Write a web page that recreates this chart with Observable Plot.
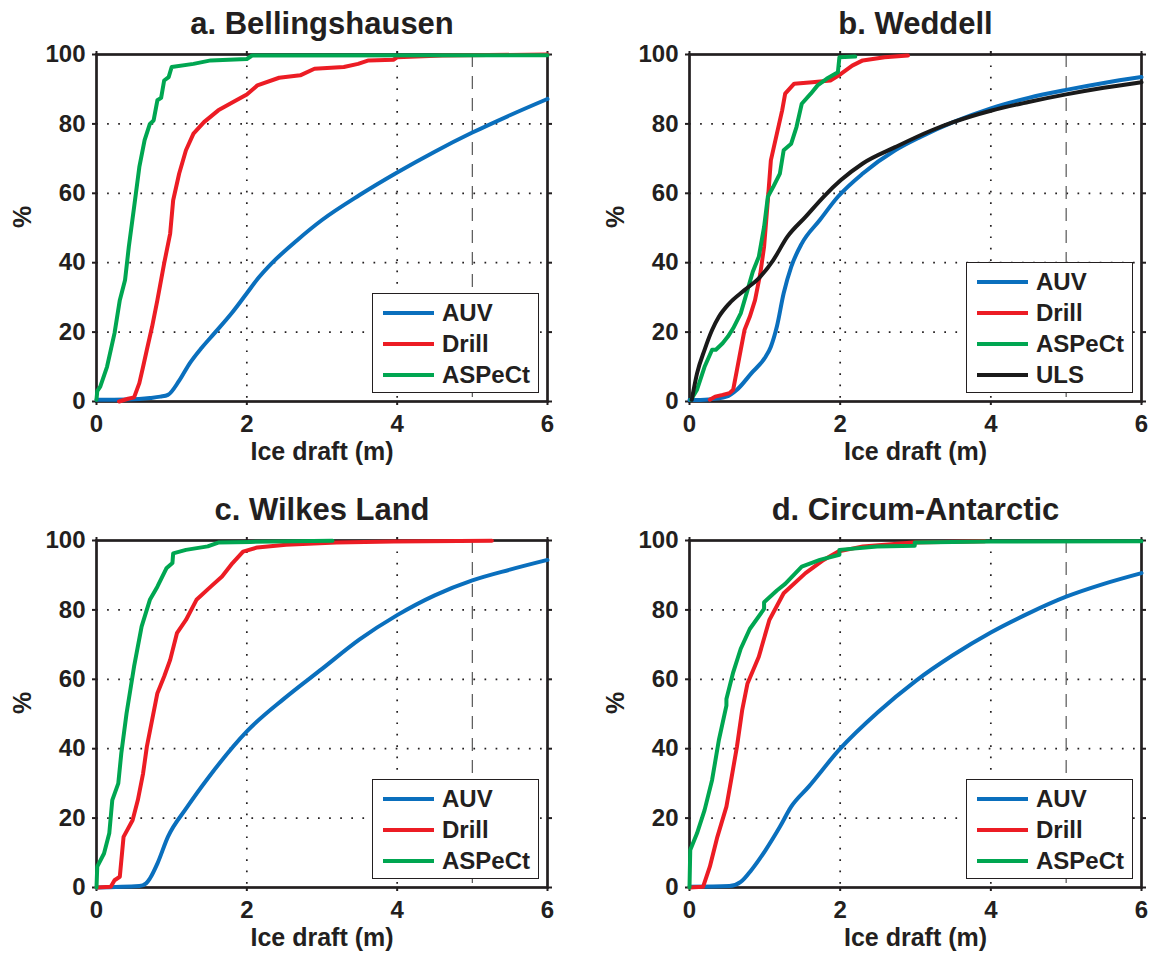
<!DOCTYPE html>
<html>
<head>
<meta charset="utf-8">
<script src="https://cdn.jsdelivr.net/npm/d3@7"></script>
<script src="https://cdn.jsdelivr.net/npm/@observablehq/plot@0.6"></script>
<style>
  html, body { margin: 0; padding: 0; background: #fff; }
  #root { position: relative; width: 1151px; height: 957px; font-family: "Liberation Sans", Arial, sans-serif; color: #231f20; }
  .panel { position: absolute; }
  .legend { position: absolute; box-sizing: border-box; border: 1.3px solid #231f20; background: #fff; padding-top: 3px; }
  .row { display: flex; align-items: center; height: 31px; }
  .sw { width: 51px; height: 4px; margin-left: 10px; margin-right: 8px; }
  .lab { font-weight: bold; font-size: 24px; line-height: 24px; }
</style>
</head>
<body>
<div id="root"></div>
<script>
// ---------- data (ice draft m, cumulative %) ----------
const xTicks = [0, 2, 4, 6];
const yTicks = [0, 20, 40, 60, 80, 100];
const xGrid = [2, 4];
const yGrid = [20, 40, 60, 80];
const dashedX = [5];

const titles = ["a. Bellingshausen", "b. Weddell", "c. Wilkes Land", "d. Circum-Antarctic"];
const seriesNames = ["AUV", "Drill", "ASPeCt", "ULS"];
const seriesColors = ["#0a6fbd", "#ec1c24", "#00a651", "#1a1a1a"];
const smoothSeries = [true, false, false, true];

const belAUV = [[0,0.5],[0.4,0.6],[0.71,1.0],[0.85,1.4],[0.95,1.9],[1.1,6],[1.24,11],[1.4,15.5],[1.57,19.7],[1.8,25.5],[2.0,31.2],[2.15,35.5],[2.33,39.8],[2.67,46.5],[3.0,52.3],[3.5,59.5],[4.0,66],[4.5,72],[5.0,77.5],[5.5,82.5],[6.0,87.2]];
const belDrill = [[0.3,0],[0.42,0.8],[0.5,1.2],[0.57,5.3],[0.62,10],[0.67,14.9],[0.74,21.6],[0.81,29.2],[0.9,39.8],[0.98,48.4],[1.02,58],[1.1,65.7],[1.19,72.4],[1.29,77.2],[1.43,80.5],[1.62,83.9],[1.86,86.8],[2.0,88.5],[2.14,91.1],[2.43,93.3],[2.71,94],[2.9,95.9],[3.29,96.4],[3.48,97.3],[3.62,98.3],[3.95,98.5],[4.0,99.2],[4.6,99.7],[6.0,100]];
const belAsp = [[0,0.5],[0.01,3],[0.05,4.3],[0.14,10],[0.24,19.7],[0.31,29.2],[0.38,35],[0.43,44.6],[0.5,56],[0.57,67.6],[0.64,75.3],[0.71,80],[0.76,81],[0.81,86.8],[0.86,87.5],[0.9,92.5],[0.96,93.5],[1.0,96.4],[1.29,97.3],[1.52,98.3],[2.0,98.7],[2.07,99.7],[6.0,99.8]];

const wedAUV = [[0,0.4],[0.25,0.6],[0.49,1.4],[0.63,3.4],[0.82,8.1],[1.01,12.9],[1.08,15.8],[1.16,21.6],[1.25,31.2],[1.35,38.8],[1.49,45.5],[1.73,52.3],[1.97,59],[2.3,65.7],[2.73,72.4],[3.06,76.2],[3.5,80.5],[4.0,84.5],[4.5,87.5],[5.0,89.8],[5.5,91.8],[6.0,93.5]];
const wedDrill = [[0.27,0.5],[0.34,1.4],[0.44,1.9],[0.53,2.4],[0.58,3.4],[0.63,9.1],[0.68,14.9],[0.73,20.6],[0.8,24.4],[0.87,29.2],[0.94,36.9],[0.99,44.6],[1.04,58],[1.08,69.5],[1.16,77.2],[1.23,83.9],[1.27,88.7],[1.39,91.6],[1.63,92],[1.87,92.5],[2.01,94.4],[2.16,96.8],[2.3,98.3],[2.59,99.2],[2.9,99.7]];
const wedAsp = [[0.02,0.5],[0.1,3.4],[0.2,10],[0.3,14.9],[0.35,14.9],[0.44,16.8],[0.51,18.7],[0.58,21.1],[0.68,25.4],[0.77,32.1],[0.84,37.4],[0.92,41.7],[0.99,50.3],[1.04,59],[1.11,61.8],[1.2,65.7],[1.25,72.4],[1.35,74.3],[1.42,79.1],[1.49,85.8],[1.61,88.7],[1.7,91.1],[1.82,93],[1.97,94.9],[1.99,99.2],[2.2,99.4]];
const wedULS = [[0.03,0.5],[0.1,8.1],[0.2,14.9],[0.3,20.6],[0.39,24.4],[0.53,28.3],[0.73,32.1],[0.92,35.5],[1.11,40.7],[1.3,47.5],[1.54,53.2],[1.78,59],[2.01,63.8],[2.3,68.6],[2.73,73.3],[3.21,78.1],[3.5,80.5],[4.0,83.8],[4.5,86.3],[5.0,88.5],[5.5,90.4],[6.0,92]];

const wilAUV = [[0,0],[0.57,0.4],[0.66,1.2],[0.71,2.6],[0.81,6.9],[0.95,14.6],[1.2,23],[1.5,32],[2.0,45],[2.5,54.5],[3.0,63],[3.5,71.5],[4.0,78.5],[4.5,84.2],[5.0,88.5],[5.5,91.6],[6.0,94.4]];
const wilDrill = [[0,0],[0.19,0.2],[0.24,2.1],[0.31,3.1],[0.36,14.6],[0.48,19.4],[0.55,25.2],[0.62,32.9],[0.67,40.6],[0.74,48.3],[0.81,56],[0.9,60.8],[0.98,65.6],[1.07,73.3],[1.19,77.1],[1.33,82.9],[1.52,86.7],[1.67,89.6],[1.81,93.5],[1.95,96.8],[2.14,98],[2.52,98.8],[3.19,99.4],[3.95,99.7],[5.26,99.9]];
const wilAsp = [[0,0],[0.01,6],[0.1,9.8],[0.17,15.6],[0.21,25.2],[0.29,30],[0.33,38.7],[0.4,50.2],[0.5,63.7],[0.6,75.2],[0.71,82.9],[0.81,86.7],[0.93,92],[1.01,93.5],[1.02,96.3],[1.19,97.3],[1.48,98.3],[1.62,99.4],[2.05,99.6],[3.14,99.9]];

const cirAUV = [[0,0.2],[0.53,0.4],[0.68,1.6],[0.82,5],[1.01,10.8],[1.2,17.5],[1.35,23.3],[1.58,29],[2.0,40],[2.5,50.5],[3.0,59.5],[3.5,67],[4.0,73.5],[4.5,79],[5.0,83.8],[5.5,87.5],[6.0,90.6]];
const cirDrill = [[0,0],[0.18,0.2],[0.27,6],[0.37,14.6],[0.49,23.3],[0.56,31.9],[0.63,40.6],[0.7,51.2],[0.77,58.8],[0.92,66.5],[1.06,77.1],[1.25,84.8],[1.54,90.6],[1.78,94.4],[1.97,96.8],[2.3,98.3],[2.97,99.4],[3.92,99.8]];
const cirAsp = [[0,0],[0.01,10.8],[0.1,15.6],[0.2,22.3],[0.3,31],[0.39,42.5],[0.49,52.4],[0.49,54.3],[0.58,62],[0.68,68.8],[0.8,74.5],[0.99,80.3],[0.99,82.2],[1.16,85.6],[1.27,87.5],[1.49,92.5],[1.73,94.4],[1.99,95.9],[1.99,97.3],[2.49,98.3],[2.99,98.5],[2.99,99.4],[4.0,99.7],[6.0,99.8]];

// ---------- layout ----------
const panels = [
  {title: titles[0], left: 0,   top: 0,   w: 575, h: 478, ml: 96,  mr: 28, mt: 54, mb: 77,
   series: [belAUV, belDrill, belAsp], legend: {left: 372, top: 293, w: 167, h: 100}},
  {title: titles[1], left: 575, top: 0,   w: 576, h: 478, ml: 114, mr: 10, mt: 54, mb: 77,
   series: [wedAUV, wedDrill, wedAsp, wedULS], legend: {left: 966, top: 262, w: 167, h: 131}},
  {title: titles[2], left: 0,   top: 478, w: 575, h: 479, ml: 96,  mr: 28, mt: 62, mb: 70,
   series: [wilAUV, wilDrill, wilAsp], legend: {left: 372, top: 779, w: 167, h: 100}},
  {title: titles[3], left: 575, top: 478, w: 576, h: 479, ml: 114, mr: 10, mt: 62, mb: 70,
   series: [cirAUV, cirDrill, cirAsp], legend: {left: 966, top: 779, w: 167, h: 100}}
];

const root = document.getElementById("root");
const ink = "#231f20";
const fmt = d3.format("d");

for (const p of panels) {
  const lines = p.series.map((s, i) => Plot.line(s, {
    x: d => d[0], y: d => d[1], stroke: seriesColors[i], strokeWidth: 4,
    strokeLinejoin: "round", curve: smoothSeries[i] ? "monotone-x" : "linear"
  }));
  const chart = Plot.plot({
    width: p.w, height: p.h,
    marginLeft: p.ml, marginRight: p.mr, marginTop: p.mt, marginBottom: p.mb,
    x: {domain: [0, 6]},
    y: {domain: [0, 100]},
    style: {fontFamily: "'Liberation Sans', Arial, sans-serif", fontWeight: "bold", color: ink, background: "#fff", overflow: "visible"},
    marks: [
      Plot.ruleX(xGrid, {stroke: ink, strokeWidth: 1.7, strokeDasharray: "1.7,9.7"}),
      Plot.ruleY(yGrid, {stroke: ink, strokeWidth: 1.7, strokeDasharray: "1.7,9.4"}),
      Plot.ruleX(dashedX, {stroke: "#555", strokeWidth: 1.2, strokeDasharray: "13,9"}),
      Plot.axisX({anchor: "bottom", ticks: xTicks, tickFormat: fmt, tickSize: 4, tickPadding: 9, fontSize: 24, label: null, strokeWidth: 2, color: ink}),
      Plot.axisX({anchor: "top", ticks: xTicks, tickSize: 4, tickFormat: () => "", label: null, strokeWidth: 2, color: ink}),
      Plot.axisY({anchor: "left", ticks: yTicks, tickFormat: fmt, tickSize: 4, tickPadding: 7, fontSize: 24, label: null, strokeWidth: 2, color: ink}),
      Plot.axisY({anchor: "right", ticks: yTicks, tickSize: 4, tickFormat: () => "", label: null, strokeWidth: 2, color: ink}),
      Plot.frame({stroke: ink, strokeWidth: 2.7}),
      ...lines,
      Plot.text([p.title], {frameAnchor: "top", dy: -21, lineAnchor: "bottom", fontSize: 31, fontWeight: "bold", fill: ink}),
      Plot.text(["Ice draft (m)"], {frameAnchor: "bottom", dy: 58, lineAnchor: "bottom", fontSize: 25, fontWeight: "bold", fill: ink}),
      Plot.text(["%"], {frameAnchor: "left", dx: -74, rotate: -90, fontSize: 25, fontWeight: "bold", fill: ink})
    ]
  });
  const div = document.createElement("div");
  div.className = "panel";
  div.style.left = p.left + "px";
  div.style.top = p.top + "px";
  div.appendChild(chart);
  root.appendChild(div);

  const lg = document.createElement("div");
  lg.className = "legend";
  lg.style.left = p.legend.left + "px";
  lg.style.top = p.legend.top + "px";
  lg.style.width = p.legend.w + "px";
  lg.style.height = p.legend.h + "px";
  p.series.forEach((s, i) => {
    const row = document.createElement("div");
    row.className = "row";
    const sw = document.createElement("div");
    sw.className = "sw";
    sw.style.background = seriesColors[i];
    const lab = document.createElement("div");
    lab.className = "lab";
    lab.textContent = seriesNames[i];
    row.appendChild(sw); row.appendChild(lab);
    lg.appendChild(row);
  });
  root.appendChild(lg);
}
</script>
</body>
</html>
